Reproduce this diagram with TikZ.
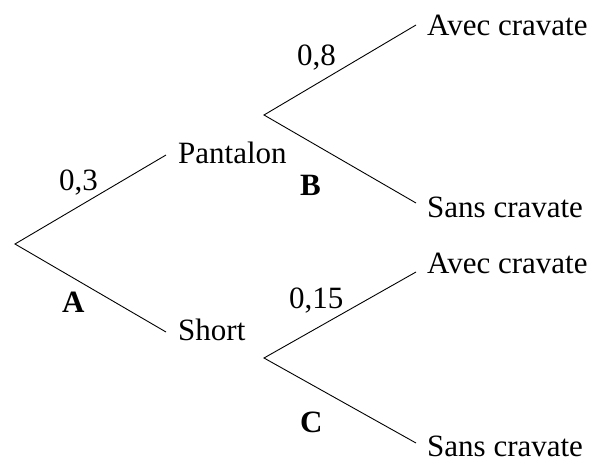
\documentclass[tikz,border=0pt]{standalone}
\usepackage{fontspec}
\setmainfont{Liberation Serif}
\begin{document}
\begin{tikzpicture}[x=1pt,y=-1pt,
  branch/.style={line width=0.9pt},
  txt/.style={anchor=base west,inner sep=0pt,font=\fontsize{31}{36}\selectfont},
  lbl/.style={anchor=base west,inner sep=0pt,font=\fontsize{31}{36}\selectfont\bfseries}]
\useasboundingbox (0,0) rectangle (594,461);
% branch points
\coordinate (root) at (15,244);
\coordinate (p) at (166,155);
\coordinate (s) at (166,332);
\coordinate (f1) at (264,115);
\coordinate (f1a) at (416,25);
\coordinate (f1b) at (416,203);
\coordinate (f2) at (264,358);
\coordinate (f2a) at (416,272);
\coordinate (f2b) at (416,443);
% texts
\node[txt] (tp) at (178,163) {Pantalon};
\node[txt] (ts) at (178,340) {Short};
\node[txt] (t1a) at (427,35) {Avec cravate};
\node[txt] (t1b) at (427,217) {Sans cravate};
\node[txt] (t2a) at (427,273) {Avec cravate};
\node[txt] (t2b) at (427,456) {Sans cravate};
\node[txt] (l03) at (59,190) {0,3};
\node[lbl] (lA) at (62,312) {A};
\node[txt] (l08) at (297,65) {0,8};
\node[lbl] (lB) at (300,195) {B};
\node[txt] (l015) at (289,308) {0,15};
\node[lbl] (lC) at (300,432) {C};
% connectors
\draw[branch] (p) -- (root) -- (s);
\draw[branch] (f1a) -- (f1) -- (f1b);
\draw[branch] (f2a) -- (f2) -- (f2b);
\end{tikzpicture}
\end{document}
